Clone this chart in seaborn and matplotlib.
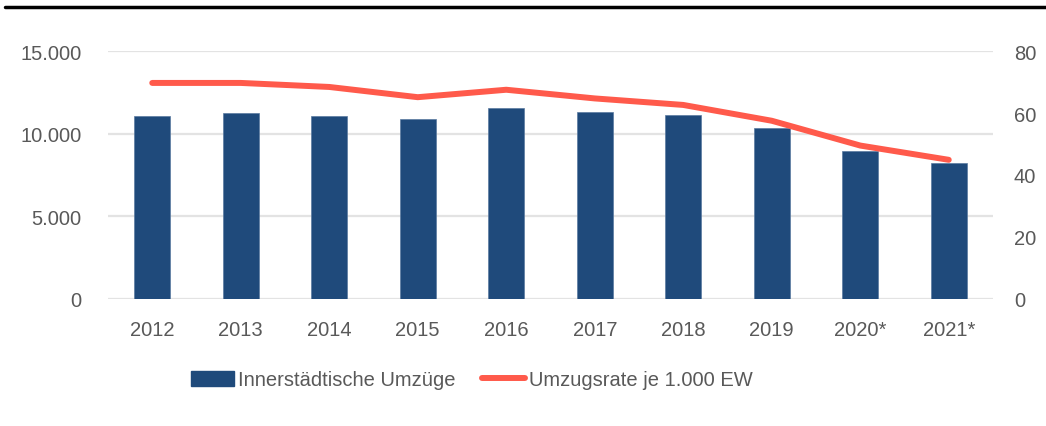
import numpy as np
import pandas as pd
import matplotlib
matplotlib.use("Agg")
import matplotlib.pyplot as plt
import seaborn as sns
from matplotlib.lines import Line2D
from matplotlib.patches import Patch
from matplotlib.ticker import FuncFormatter

years = ["2012", "2013", "2014", "2015", "2016", "2017", "2018", "2019", "2020*", "2021*"]
umzuege = [11070, 11230, 11050, 10870, 11540, 11310, 11110, 10340, 8970, 8230]
rate = [69.7, 69.7, 68.4, 65.1, 67.5, 64.7, 62.6, 57.5, 49.5, 44.9]
left_ticks = [0, 5000, 10000, 15000]
right_ticks = [0, 20, 40, 60, 80]
label_bar = "Innerstädtische Umzüge"
label_line = "Umzugsrate je 1.000 EW"

sns.set_theme(style="white")
plt.rcParams['font.family'] = ['Liberation Sans', 'DejaVu Sans']
FS = 14.5

BAR = "#1F4A7B"
LINE = "#FF5A4B"
TXT = "#595959"
GRID = "#E3E3E3"

fig = plt.figure(figsize=(10.46, 4.27), dpi=100)
ax = fig.add_axes([108/1046, 127/427, 885/1046, 248/427])
df = pd.DataFrame({"Jahr": years, "Umzuege": umzuege, "Rate": rate})

sns.barplot(data=df, x="Jahr", y="Umzuege", color=BAR, width=0.41, ax=ax,
            saturation=1, edgecolor="#5a7aa0", linewidth=0.5)
ax.set_ylim(0, 15000)
ax.set_xlim(-0.5, len(years) - 0.5)
ax.set_yticks(left_ticks)
ax.yaxis.set_major_formatter(FuncFormatter(lambda v, p: f"{int(v):,}".replace(",", ".")))
for t in left_ticks:
    ax.axhline(t, color=GRID, lw=1.6, zorder=0)
ax.set_axisbelow(True)
for s in ax.spines.values():
    s.set_visible(False)
ax.set_xlabel("")
ax.set_ylabel("")
ax.tick_params(axis="both", length=0, colors=TXT, labelsize=FS)
ax.tick_params(axis="y", pad=19)
ax.tick_params(axis="x", pad=15)

ax2 = ax.twinx()
df["pos"] = np.arange(len(years))
sns.lineplot(data=df, x="pos", y="Rate", color=LINE, lw=4.3, ax=ax2,
             solid_capstyle="round", solid_joinstyle="round")
ax2.set_ylim(0, 80)
ax2.set_xlim(-0.5, len(years) - 0.5)
ax2.set_yticks(right_ticks)
for s in ax2.spines.values():
    s.set_visible(False)
ax2.set_xlabel("")
ax2.set_ylabel("")
ax2.tick_params(axis="y", length=0, colors=TXT, labelsize=FS, pad=15)
ax2.grid(False)

handles = [Patch(facecolor=BAR, edgecolor=BAR),
           Line2D([0], [0], color=LINE, lw=4.3, solid_capstyle="round")]
fig.legend(handles, [label_bar, label_line], loc="center", ncol=2,
           bbox_to_anchor=(472/1046, 1 - 381/427), frameon=False,
           fontsize=FS, labelcolor=TXT, handlelength=2.15, handletextpad=0.2,
           columnspacing=1.3, handleheight=0.7)

fig.add_artist(Line2D([5/1046, 1.0], [1 - 8/427, 1 - 8/427], color="black", lw=2.5))

fig.savefig("out.png", dpi=100, facecolor="white")
